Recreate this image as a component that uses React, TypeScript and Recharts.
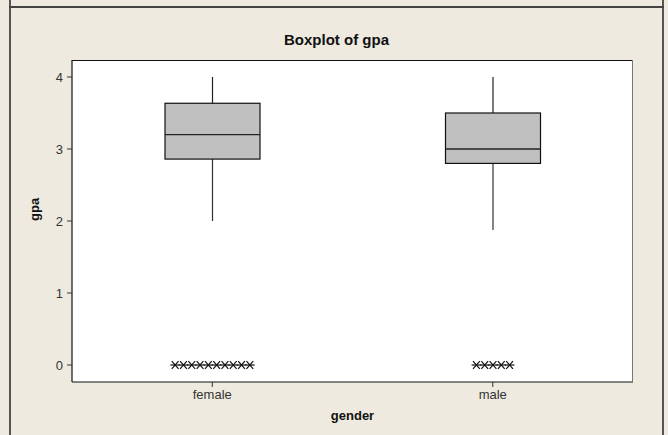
import React from 'react';
import { ComposedChart, Bar, XAxis, YAxis, CartesianGrid } from 'recharts';

const genders = ['female', 'male'];
const whiskerLow = [2.0, 1.875];
const quartile1 = [2.86, 2.8];
const medians = [3.2, 3.0];
const quartile3 = [3.635, 3.5];
const whiskerHigh = [4.0, 4.0];
const outliers = [
    [0, 0, 0, 0, 0, 0, 0, 0, 0, 0],
    [0, 0, 0, 0, 0],
];
const yTicks = [0, 1, 2, 3, 4];

const BG = '#eeeae0';
const FONT = '"Liberation Sans", Arial, sans-serif';

const data = genders.map((g, i) => ({
    gender: g,
    range: [whiskerLow[i], whiskerHigh[i]],
    min: whiskerLow[i],
    q1: quartile1[i],
    median: medians[i],
    q3: quartile3[i],
    max: whiskerHigh[i],
    outliers: outliers[i],
}));

// box, whiskers and outlier stars, all placed from the bar's own y-scale
const BoxShape = (props: any) => {
    const { x, y, width, height, payload } = props;
    const ppu = height / (payload.max - payload.min);
    const py = (v: number) => y + (payload.max - v) * ppu;
    const cx = x + width / 2;
    const n = payload.outliers.length;
    return (
        <g>
            <line x1={cx} x2={cx} y1={py(payload.max)} y2={py(payload.q3)} stroke="#222" strokeWidth={1.2} />
            <line x1={cx} x2={cx} y1={py(payload.q1)} y2={py(payload.min)} stroke="#333" strokeWidth={1.2} />
            <rect x={x} y={py(payload.q3)} width={width} height={py(payload.q1) - py(payload.q3)}
                fill="#c0c0c0" stroke="#111" strokeWidth={1.2} />
            <line x1={x} x2={x + width} y1={py(payload.median)} y2={py(payload.median)} stroke="#222" strokeWidth={1.4} />
            {payload.outliers.map((v: number, i: number) => {
                const ox = cx + (i - (n - 1) / 2) * 8.3;
                const oy = py(v);
                return (
                    <g key={i} stroke="#111" strokeWidth={1.2}>
                        <line x1={ox - 4.8} x2={ox + 4.8} y1={oy} y2={oy} />
                        <line x1={ox - 3.4} x2={ox + 3.4} y1={oy - 3.8} y2={oy + 3.8} />
                        <line x1={ox - 3.4} x2={ox + 3.4} y1={oy + 3.8} y2={oy - 3.8} />
                    </g>
                );
            })}
        </g>
    );
};

export default function App() {
    return (
        <div style={{ position: 'absolute', left: 0, top: 0, width: 668, height: 435, background: BG, fontFamily: FONT, overflow: 'hidden' }}>
            <div style={{ position: 'absolute', left: 9, top: 0, width: 2, height: 435, background: '#555' }} />
            <div style={{ position: 'absolute', left: 662, top: 0, width: 2, height: 435, background: '#555' }} />
            <div style={{ position: 'absolute', left: 9, top: 6, width: 655, height: 2, background: '#444' }} />
            <div style={{ position: 'absolute', left: 9, top: 31, width: 655, textAlign: 'center', fontSize: 15, fontWeight: 'bold', color: '#111' }}>
                Boxplot of gpa
            </div>
            <div style={{ position: 'absolute', left: 0, top: 0 }}>
                <ComposedChart width={668} height={435} data={data} margin={{ top: 60, right: 35, bottom: 0, left: 0 }}>
                    <CartesianGrid horizontal={false} vertical={false} fill="#ffffff" />
                    <XAxis
                        dataKey="gender"
                        type="category"
                        tickSize={5}
                        tickMargin={3}
                        tick={{ fontSize: 13, fill: '#333', fontFamily: FONT }}
                        axisLine={{ stroke: '#111', strokeWidth: 1.2 }}
                        tickLine={{ stroke: '#333' }}
                        height={53}
                        label={{ value: 'gender', position: 'insideTop', offset: 29, fontSize: 13, fontWeight: 'bold', fill: '#111', fontFamily: FONT }}
                    />
                    <YAxis
                        type="number"
                        domain={[-0.236, 4.236]}
                        ticks={yTicks}
                        allowDataOverflow
                        width={72}
                        tickSize={5}
                        tickMargin={4}
                        tick={{ fontSize: 13, fill: '#333', fontFamily: FONT }}
                        axisLine={{ stroke: '#111', strokeWidth: 1.2 }}
                        tickLine={{ stroke: '#333' }}
                        label={{ value: 'gpa', angle: -90, position: 'insideLeft', offset: 34, fontSize: 13, fontWeight: 'bold', fill: '#111', fontFamily: FONT }}
                    />
                    <Bar dataKey="range" barSize={95} shape={BoxShape} isAnimationActive={false} />
                </ComposedChart>
            </div>
            {/* plot frame: top and right edges */}
            <div style={{ position: 'absolute', left: 72, top: 60, width: 561, height: 0, borderTop: '1px solid #111', pointerEvents: 'none' }} />
            <div style={{ position: 'absolute', left: 632, top: 60, width: 0, height: 322, borderLeft: '1px solid #777', pointerEvents: 'none' }} />
        </div>
    );
}
